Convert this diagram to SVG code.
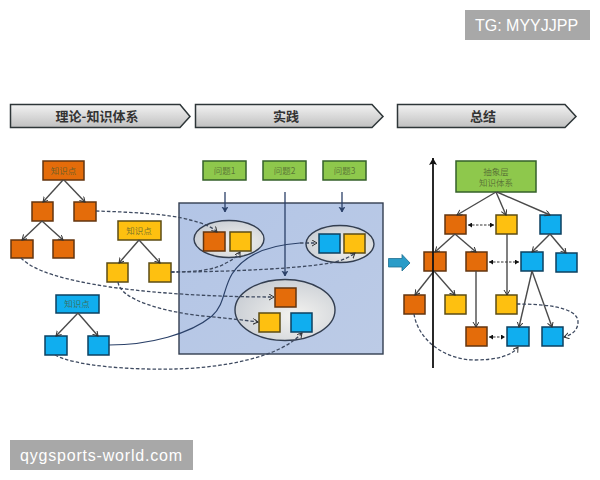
<svg xmlns="http://www.w3.org/2000/svg" width="600" height="480" viewBox="0 0 600 480">
<style>
.f{font-family:"Noto Sans CJK SC","Liberation Sans",sans-serif;text-anchor:middle}
.h{font-size:13px;font-weight:700;fill:#333}
.l{font-size:8.500px;fill:#4a5a30;fill-opacity:.75}
.hd{fill:url(#hg);stroke:#2e3638;stroke-width:1.500}
.o,.y,.b,.g{stroke-width:1.500}
.o{fill:#e46c0a;stroke:#63350f}
.y{fill:#fec010;stroke:#5c4c14}
.b{fill:#10aeef;stroke:#0c4060}
.g{fill:#8ec84c;stroke:#35602a}
.el{fill:url(#eg);stroke:#333e50;stroke-width:1.400}
.s{fill:none;stroke:#4a4a4a;stroke-width:1.400;marker-end:url(#a)}
.n{fill:none;stroke:#2a4068;stroke-width:1.300;marker-end:url(#n)}
.d{fill:none;stroke:#3e4a60;stroke-width:1.300;stroke-dasharray:3.500 2;marker-end:url(#a)}
.dd{fill:none;stroke:#333;stroke-width:1.200;stroke-dasharray:2.500 1.500;marker-end:url(#k);marker-start:url(#ks)}
.w{font-family:"Liberation Sans",sans-serif;font-size:16px;fill:#fff}
</style>
<defs>
<linearGradient id="hg" x1="0" y1="0" x2="0" y2="1"><stop offset="0" stop-color="#f2f2f2"/><stop offset="1" stop-color="#c0c0c0"/></linearGradient>
<radialGradient id="eg" cx=".6" cy=".6" r=".7"><stop offset="0" stop-color="#f4f3f0"/><stop offset="1" stop-color="#c6cbd2"/></radialGradient>
<linearGradient id="pg" x1="0" y1="0" x2="1" y2="1"><stop offset="0" stop-color="#b3c5e6"/><stop offset="1" stop-color="#bccbe6"/></linearGradient>
<marker id="a" markerWidth="7" markerHeight="7" refX="5" refY="3" orient="auto" markerUnits="userSpaceOnUse"><path d="M0,0L5,3L0,6" fill="none" stroke="#333" stroke-width="1"/></marker>
<marker id="n" markerWidth="8" markerHeight="8" refX="5" refY="3" orient="auto" markerUnits="userSpaceOnUse"><path d="M0,0L5,3L0,6L1.500,3Z" fill="#2a4068" stroke="#2a4068" stroke-width=".6"/></marker>
<marker id="k" markerWidth="6" markerHeight="6" refX="4" refY="2.500" orient="auto" markerUnits="userSpaceOnUse"><path d="M0,0L4,2.500L0,5Z" fill="#111"/></marker>
<marker id="ks" markerWidth="6" markerHeight="6" refX="0" refY="2.500" orient="auto" markerUnits="userSpaceOnUse"><path d="M4,0L0,2.500L4,5Z" fill="#111"/></marker>
<marker id="t" markerWidth="10" markerHeight="10" refX="7" refY="4" orient="auto" markerUnits="userSpaceOnUse"><path d="M0,0L7,4L0,8L1.500,4Z" fill="#111"/></marker>
</defs>

<rect id="bg" width="600" height="480" fill="#fff"/>

<g id="header-1"><path class="hd" d="M10.500,104.500H180L190,116.500L180,127.500H10.500Z"/><text class="f h" x="97" y="121">理论-知识体系</text></g>
<g id="header-2"><path class="hd" d="M195.500,104.500H372L383,116.500L372,127.500H195.500Z"/><text class="f h" x="286" y="121">实践</text></g>
<g id="header-3"><path class="hd" d="M397.500,104.500H565L576,116.500L565,127.500H397.500Z"/><text class="f h" x="483" y="121">总结</text></g>

<g id="panel"><rect x="179" y="203" width="204" height="151" fill="url(#pg)" stroke="#333e50" stroke-width="1.400"/></g>
<g id="group-1"><ellipse class="el" cx="229" cy="239" rx="35" ry="18.500"/></g>
<g id="group-2"><ellipse class="el" cx="340" cy="244" rx="34" ry="18.500"/></g>
<g id="group-3"><ellipse class="el" cx="285" cy="310" rx="50" ry="30.500"/></g>

<g id="orange-root"><rect class="o" x="43" y="161" width="41" height="19"/><text class="f l" x="63.500" y="174">知识点</text></g>
<g id="o1"><rect class="o" x="32" y="202" width="21" height="19"/></g>
<g id="o2"><rect class="o" x="74" y="202" width="22" height="19"/></g>
<g id="o3"><rect class="o" x="11" y="240" width="22" height="18"/></g>
<g id="o4"><rect class="o" x="53" y="240" width="21" height="18"/></g>
<g id="yellow-root"><rect class="y" x="118" y="221" width="43" height="19"/><text class="f l" x="139" y="234">知识点</text></g>
<g id="y1"><rect class="y" x="107" y="263" width="21" height="19"/></g>
<g id="y2"><rect class="y" x="149" y="263" width="22" height="19"/></g>
<g id="blue-root"><rect class="b" x="56" y="295" width="43" height="18"/><text class="f l" x="77" y="307">知识点</text></g>
<g id="b1"><rect class="b" x="45" y="336" width="22" height="19"/></g>
<g id="b2"><rect class="b" x="88" y="336" width="21" height="19"/></g>

<g id="q1"><rect class="g" x="203" y="161" width="43" height="19"/><text class="f l" x="224.500" y="174">问题1</text></g>
<g id="q2"><rect class="g" x="263" y="161" width="43" height="19"/><text class="f l" x="284.500" y="174">问题2</text></g>
<g id="q3"><rect class="g" x="323" y="161" width="43" height="19"/><text class="f l" x="344.500" y="174">问题3</text></g>

<g id="m1"><rect class="o" x="203.500" y="232" width="21.500" height="19"/></g>
<g id="m2"><rect class="y" x="230" y="232" width="21" height="19"/></g>
<g id="m3"><rect class="b" x="319" y="234" width="21" height="19"/></g>
<g id="m4"><rect class="y" x="344" y="234" width="21" height="19"/></g>
<g id="m5"><rect class="o" x="275" y="288" width="21" height="19"/></g>
<g id="m6"><rect class="y" x="259" y="313" width="21" height="19"/></g>
<g id="m7"><rect class="b" x="291" y="313" width="21" height="19"/></g>

<g id="flow-arrow"><path d="M388.500,258.500H402V254.500L410,263L402,271V267H388.500Z" fill="#2a9cc8" stroke="#1f6f90" stroke-width=".8"/></g>

<g id="abstract"><rect class="g" x="456" y="161" width="80" height="31"/><text class="f l" x="496" y="175">抽象层</text><text class="f l" x="496" y="186">知识体系</text></g>
<g id="r1"><rect class="o" x="445" y="215" width="21" height="19"/></g>
<g id="r2"><rect class="y" x="496" y="215" width="21" height="19"/></g>
<g id="r3"><rect class="b" x="540" y="215" width="21" height="19"/></g>
<g id="r4"><rect class="o" x="424" y="252" width="22" height="19"/></g>
<g id="r5"><rect class="o" x="466" y="252" width="21" height="19"/></g>
<g id="r6"><rect class="b" x="521" y="252" width="22" height="19"/></g>
<g id="r7"><rect class="b" x="556" y="253" width="21" height="19"/></g>
<g id="r8"><rect class="o" x="404" y="295" width="21" height="19"/></g>
<g id="r9"><rect class="y" x="445" y="295" width="21" height="19"/></g>
<g id="r10"><rect class="y" x="496" y="295" width="21" height="19"/></g>
<g id="r11"><rect class="o" x="466" y="327" width="21" height="19"/></g>
<g id="r12"><rect class="b" x="507" y="327" width="22" height="19"/></g>
<g id="r13"><rect class="b" x="542" y="327" width="21" height="19"/></g>

<g id="connectors">
<path class="s" d="M63,180L43,202"/><path class="s" d="M64,180L85,202"/>
<path class="s" d="M42,221L22,240"/><path class="s" d="M42,221L63,240"/>
<path class="s" d="M139,240L119,263"/><path class="s" d="M139,240L160,263"/>
<path class="s" d="M78,313L56,336"/><path class="s" d="M78,313L98,336"/>
<path class="n" d="M225,192V212"/><path class="n" d="M285,192V276"/><path class="n" d="M342,192V212"/>
<path class="d" d="M96,211C130,212 170,214 190,220C203,223 212,227 217,232"/>
<path class="d" d="M21,258C35,272 65,280 110,287C160,294 220,297 274,297"/>
<path class="d" d="M171,272C195,272 215,270 226,263C232,260 237,257 240,252"/>
<path class="d" d="M171,272C230,272 310,268 335,262C343,260 350,257 355,253"/>
<path class="d" d="M118,282C120,300 165,312 203,316C225,318 243,320 258,322"/>
<path fill="none" stroke="#2a4068" stroke-width="1.200" d="M109,345C150,345 190,334 212,316C225,304 223,289 232,274C245,254 270,245 300,243"/>
<path class="d" d="M300,243H317"/>
<path class="d" d="M55,355C75,366 130,370 175,369C220,368 280,358 302,333"/>
<path class="s" d="M496,192L457,215"/><path class="s" d="M496,192L506,215"/><path class="s" d="M497,192L550,215"/>
<path class="s" d="M455,234L435,252"/><path class="s" d="M455,234L476,252"/>
<path class="s" d="M550,234L532,252"/><path class="s" d="M550,234L566,253"/>
<path class="s" d="M434,271L415,295"/><path class="s" d="M434,271L455,295"/>
<path class="s" d="M507,234V295"/><path class="s" d="M476,271V327"/>
<path class="s" d="M532,271L519,327"/><path class="s" d="M532,271L552,327"/>
<path class="dd" d="M468,225H494"/><path class="dd" d="M489,262H519"/><path class="dd" d="M489,337H505"/>
<path class="d" d="M517,304C540,304 578,306 578,322C578,330 572,335 564,337"/>
<path class="d" d="M414,314C418,340 445,360 475,360C495,360 512,356 518,347"/>
<path fill="none" stroke="#111" stroke-width="1.800" marker-end="url(#t)" d="M433,368V158"/>
</g>

<g id="wm-1"><rect x="465" y="10" width="125" height="30" fill="#a8a8a8"/><text class="w" x="475" y="31">TG: MYYJJPP</text></g>
<g id="wm-2"><rect x="10" y="440" width="183" height="30" fill="#a8a8a8"/><text class="w" x="20" y="461" letter-spacing=".8">qygsports-world.com</text></g>
</svg>
